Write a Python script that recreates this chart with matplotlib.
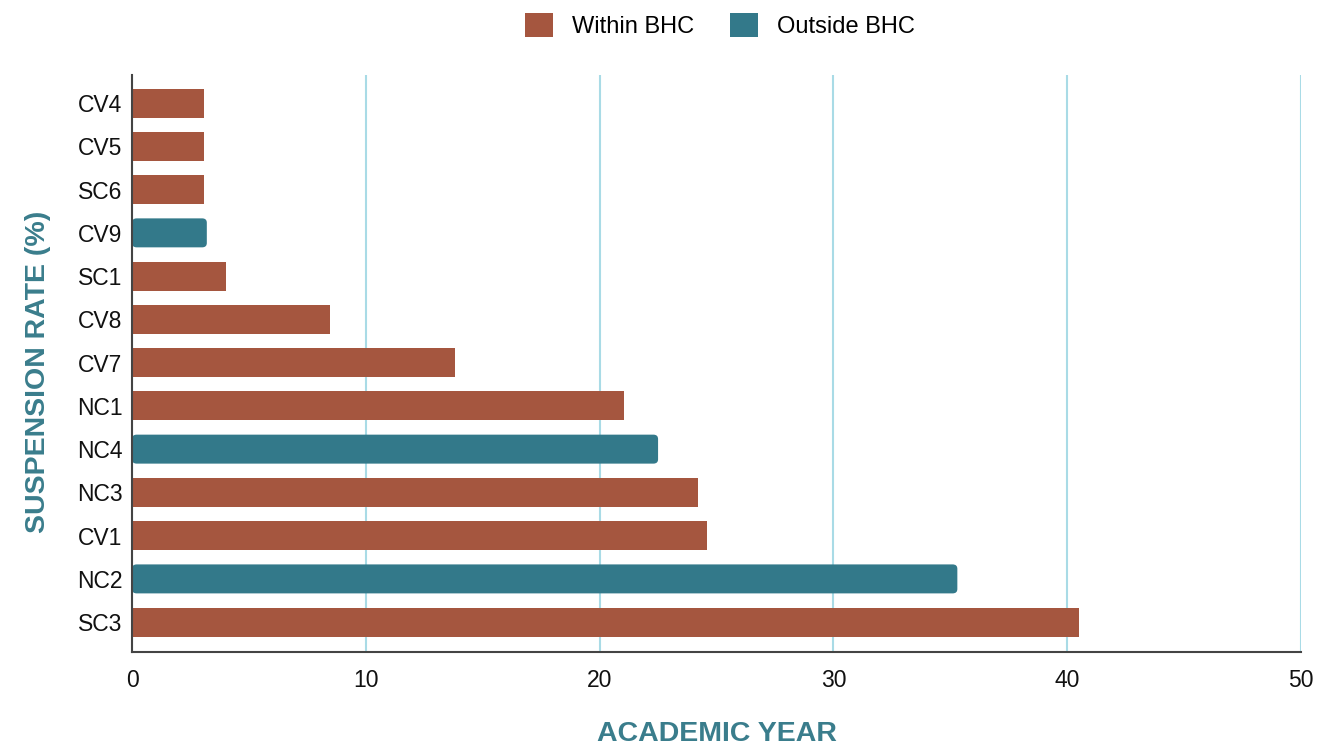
import matplotlib
matplotlib.use("Agg")
import matplotlib.pyplot as plt
from matplotlib.patches import FancyBboxPatch, Patch

plt.rcParams['font.family'] = ['Liberation Sans', 'DejaVu Sans']

# schools, top to bottom
schools = ["CV4", "CV5", "SC6", "CV9", "SC1", "CV8", "CV7",
           "NC1", "NC4", "NC3", "CV1", "NC2", "SC3"]
rates = [3.1, 3.1, 3.1, 3.2, 4.0, 8.45, 13.8,
         21.05, 22.5, 24.2, 24.6, 35.3, 40.5]
groups = ["Within BHC", "Within BHC", "Within BHC", "Outside BHC",
          "Within BHC", "Within BHC", "Within BHC", "Within BHC",
          "Outside BHC", "Within BHC", "Within BHC", "Outside BHC",
          "Within BHC"]

BROWN = "#a5563f"
TEAL = "#33798a"
GRID = "#a9dbe6"
LABEL = "#3a7d8c"

fig = plt.figure(figsize=(13.28, 7.46), dpi=100)
ax = fig.add_axes([0.0994, 0.126, 0.8803, 0.7735])

bar_h = 0.67
for i, (name, val, grp) in enumerate(zip(schools, rates, groups)):
    if grp == "Within BHC":
        ax.barh(i, val, height=bar_h, color=BROWN, zorder=3)
    else:
        # rounded bars for the outside group
        box = FancyBboxPatch((0, i - bar_h / 2), val, bar_h,
                             boxstyle="round,pad=0,rounding_size=0.2",
                             mutation_aspect=0.5,
                             facecolor=TEAL, edgecolor="none", zorder=3)
        ax.add_patch(box)

ax.set_xlim(0, 50)
ax.set_ylim(len(schools) - 1 + 0.69, -0.65)
ax.set_yticks(range(len(schools)))
ax.set_yticklabels(schools)
ax.set_xticks([0, 10, 20, 30, 40, 50])

ax.grid(axis="x", color=GRID, linewidth=1.5, zorder=0)
ax.grid(axis="y", visible=False)
for s in ["top", "right"]:
    ax.spines[s].set_visible(False)
for s in ["left", "bottom"]:
    ax.spines[s].set_color("#444444")
    ax.spines[s].set_linewidth(1.5)
    ax.spines[s].set_zorder(4)

ax.tick_params(axis="both", length=0, labelsize=16.5, colors="#111111")
ax.tick_params(axis="x", pad=12)
ax.tick_params(axis="y", pad=7)

ax.set_xlabel("ACADEMIC YEAR", fontsize=20.5, fontweight="bold",
              color=LABEL, labelpad=21)
ax.set_ylabel("SUSPENSION RATE (%)", fontsize=20.5, fontweight="bold",
              color=LABEL)
ax.yaxis.set_label_coords(-0.069, 0.486)

handles = [Patch(facecolor=BROWN, label="Within BHC"),
           Patch(facecolor=TEAL, label="Outside BHC")]
fig.legend(handles=handles, loc="center", bbox_to_anchor=(0.542, 0.966),
           ncol=2, frameon=False, fontsize=17, handlelength=1.2,
           handleheight=1.2, handletextpad=0.8, columnspacing=1.5)

fig.savefig("out.png", dpi=100)
